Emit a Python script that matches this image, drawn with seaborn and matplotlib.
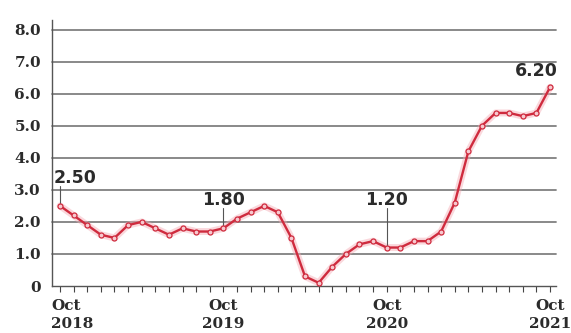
import numpy as np
import pandas as pd
import matplotlib
matplotlib.use("Agg")
import matplotlib.pyplot as plt
from matplotlib.transforms import ScaledTranslation
import seaborn as sns

# US consumer price inflation, year-on-year %, monthly Oct 2018 - Oct 2021
months = pd.date_range("2018-10-01", "2021-10-01", freq="MS").strftime("%Y-%m").tolist()
inflation = [2.5, 2.2, 1.9, 1.6, 1.5, 1.9, 2.0, 1.8, 1.6, 1.8, 1.7, 1.7,
             1.8, 2.1, 2.3, 2.5, 2.3, 1.5, 0.3, 0.1, 0.6, 1.0, 1.3, 1.4,
             1.2, 1.2, 1.4, 1.4, 1.7, 2.6, 4.2, 5.0, 5.4, 5.4, 5.3, 5.4,
             6.2]
tick_months = ["2018-10", "2019-10", "2020-10", "2021-10"]
tick_labels = ["Oct\n2018", "Oct\n2019", "Oct\n2020", "Oct\n2021"]
y_ticks = [0, 1, 2, 3, 4, 5, 6, 7, 8]
y_tick_labels = ["0", "1.0", "2.0", "3.0", "4.0", "5.0", "6.0", "7.0", "8.0"]
callouts = ["2018-10", "2019-10", "2020-10"]
end_label = "2021-10"

df = pd.DataFrame({"month": months, "value": inflation})
df["pos"] = np.arange(len(df))

sns.set_theme(style="white")
plt.rcParams["font.family"] = ["DejaVu Serif"]

fig = plt.figure(figsize=(5.71, 3.33), dpi=100)
ax = fig.add_axes([52 / 571, 1 - 286 / 333, (556 - 52) / 571, (286 - 20) / 333])

TXT = "#2b2b2b"
RED = "#cf2b3e"

# horizontal gridlines
for v in y_ticks[1:]:
    ax.axhline(v, color="#808080", lw=1.3, zorder=1)

# soft halo under the series line
ax.plot(df["pos"], df["value"], color="#f4a9b3", lw=5, alpha=0.45,
        zorder=2, solid_capstyle="round")
sns.lineplot(data=df, x="pos", y="value", ax=ax, color=RED, lw=1.7,
             marker="o", markersize=3.6, markerfacecolor="#f7c9cf",
             markeredgecolor=RED, markeredgewidth=0.9, zorder=3)
for ln in ax.lines:
    ln.set_clip_on(False)

ax.set_xlim(-0.59, 36.44)
ax.set_ylim(0, 8.3)
ax.set_xlabel("")
ax.set_ylabel("")

pos_of = dict(zip(df["month"], df["pos"]))
val_of = dict(zip(df["month"], df["value"]))

ax.set_yticks(y_ticks)
ax.set_yticklabels(y_tick_labels, fontsize=11, fontweight="bold", color=TXT)
ax.set_xticks([pos_of[m] for m in tick_months])
ax.set_xticklabels(tick_labels, fontsize=11, fontweight="bold", color=TXT,
                   linespacing=1.4)
ax.set_xticks(df["pos"], minor=True)
ax.tick_params(axis="x", which="both", direction="out", length=4,
               width=0.8, color="#444444", pad=5, bottom=True)
ax.tick_params(axis="y", length=0, pad=8)

# first label sits flush with the axis start
first = ax.xaxis.get_major_ticks()[0].label1
first.set_horizontalalignment("left")
first.set_multialignment("left")
first.set_transform(first.get_transform() + ScaledTranslation(-0.09, 0, fig.dpi_scale_trans))

for side in ["top", "right"]:
    ax.spines[side].set_visible(False)
ax.spines["left"].set_color("#555555")
ax.spines["left"].set_linewidth(1.0)
ax.spines["bottom"].set_color("#555555")
ax.spines["bottom"].set_linewidth(1.0)

# value callouts with leader lines
label_base = {"2018-10": 3.22, "2019-10": 2.53, "2020-10": 2.53}
for m in callouts:
    x, v = pos_of[m], val_of[m]
    y = label_base[m]
    ax.plot([x, x], [v + 0.08, y - 0.1], color="#555555", lw=0.8, zorder=2)
    if m == callouts[0]:
        ax.text(x - 0.5, y, f"{v:.2f}", ha="left", va="baseline",
                fontsize=12.5, fontweight="bold", color=TXT, family="DejaVu Sans")
    else:
        ax.text(x, y, f"{v:.2f}", ha="center", va="baseline",
                fontsize=12.5, fontweight="bold", color=TXT, family="DejaVu Sans")
x, v = pos_of[end_label], val_of[end_label]
ax.text(x + 0.6, 6.56, f"{v:.2f}", ha="right", va="baseline", fontsize=12.5,
        fontweight="bold", color=TXT, family="DejaVu Sans")

fig.savefig("out.png", dpi=100, facecolor="white")
